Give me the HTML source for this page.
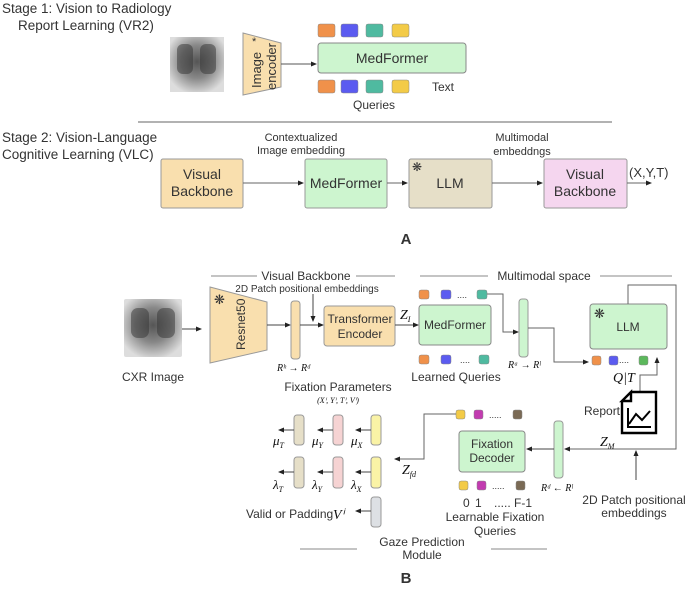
<!DOCTYPE html>
<html><head><style>body{margin:0;background:#fff}svg{display:block}text{font-family:"Liberation Sans",sans-serif;fill:#333}.m{font-family:"Liberation Serif",serif;font-style:italic;fill:#111}</style></head><body>
<svg width="685" height="590" viewBox="0 0 685 590" xmlns="http://www.w3.org/2000/svg">
<defs>
<marker id="a" markerWidth="6" markerHeight="6" refX="5" refY="3" orient="auto"><path d="M0,0.5 L6,3 L0,5.5z" fill="#222"/></marker>
<radialGradient id="x" cx="50%" cy="45%" r="60%"><stop offset="0" stop-color="#555"/><stop offset="0.5" stop-color="#888"/><stop offset="1" stop-color="#ddd"/></radialGradient>
</defs>
<line x1="138" y1="122" x2="612" y2="122" stroke="#666"/>
<text x="2" y="13" font-size="13.5">Stage 1: Vision to Radiology</text>
<text x="18" y="30" font-size="13.5">Report Learning (VR2)</text>
<rect x="170" y="37" width="54" height="55" fill="url(#x)"/>
<rect x="177" y="44" width="16" height="30" rx="6" fill="#333" opacity=".5"/><rect x="200" y="44" width="16" height="30" rx="6" fill="#333" opacity=".5"/>
<path d="M243,33 L281,43 L281,87 L243,95z" fill="#f9dfae" stroke="#999"/>
<text transform="translate(261,88) rotate(-90)" font-size="13" fill="#222">Image</text>
<text transform="translate(276,90) rotate(-90)" font-size="13" fill="#222">encoder</text>
<text x="252" y="45" font-size="11">*</text>
<line x1="281" y1="64" x2="316" y2="64" stroke="#555" marker-end="url(#a)"/>
<rect x="318" y="43" width="148" height="30" rx="3" fill="#cdf5cf" stroke="#888"/>
<text x="392" y="63" font-size="14" text-anchor="middle">MedFormer</text>
<g stroke="#888" stroke-width=".5">
<rect x="318" y="24" width="17" height="13" rx="2" fill="#f0914a"/><rect x="341" y="24" width="17" height="13" rx="2" fill="#5b5bf0"/><rect x="366" y="24" width="17" height="13" rx="2" fill="#4fbaa0"/><rect x="392" y="24" width="17" height="13" rx="2" fill="#f3cb47"/>
<rect x="318" y="80" width="17" height="13" rx="2" fill="#f0914a"/><rect x="341" y="80" width="17" height="13" rx="2" fill="#5b5bf0"/><rect x="366" y="80" width="17" height="13" rx="2" fill="#4fbaa0"/><rect x="392" y="80" width="17" height="13" rx="2" fill="#f3cb47"/>
</g>
<text x="432" y="91" font-size="12">Text</text>
<text x="374" y="109" font-size="12" text-anchor="middle">Queries</text>
<text x="2" y="142" font-size="13.5">Stage 2: Vision-Language</text>
<text x="2" y="159" font-size="13.5">Cognitive Learning (VLC)</text>
<text x="301" y="141" font-size="11" text-anchor="middle">Contextualized</text>
<text x="301" y="154" font-size="11" text-anchor="middle">Image embedding</text>
<text x="522" y="141" font-size="11" text-anchor="middle">Multimodal</text>
<text x="522" y="155" font-size="11" text-anchor="middle">embeddngs</text>
<rect x="161" y="159" width="82" height="49" rx="2" fill="#f9dfae" stroke="#999"/>
<text x="202" y="179" font-size="14" text-anchor="middle">Visual</text><text x="202" y="196" font-size="14" text-anchor="middle">Backbone</text>
<rect x="305" y="159" width="82" height="49" rx="2" fill="#cdf5cf" stroke="#999"/>
<text x="346" y="188" font-size="14" text-anchor="middle">MedFormer</text>
<rect x="409" y="159" width="83" height="49" rx="2" fill="#e6dfc8" stroke="#999"/>
<text x="450" y="188" font-size="14" text-anchor="middle">LLM</text><text x="412" y="171" font-size="12" fill="#111">❋</text>
<rect x="544" y="159" width="83" height="49" rx="2" fill="#f5d6ef" stroke="#999"/>
<text x="585" y="179" font-size="14" text-anchor="middle">Visual</text><text x="585" y="196" font-size="14" text-anchor="middle">Backbone</text>
<g stroke="#666" marker-end="url(#a)"><line x1="243" y1="183" x2="303" y2="183"/><line x1="387" y1="183" x2="407" y2="183"/><line x1="492" y1="183" x2="542" y2="183"/><line x1="627" y1="183" x2="651" y2="183"/></g>
<text x="629" y="177" font-size="13">(X,Y,T)</text>
<text x="406" y="244" font-size="15" font-weight="bold" text-anchor="middle">A</text>

<g stroke="#888" fill="none"><line x1="211" y1="276" x2="257" y2="276"/><line x1="356" y1="276" x2="395" y2="276"/><line x1="420" y1="276" x2="488" y2="276"/><line x1="600" y1="276" x2="672" y2="276"/><line x1="300" y1="549" x2="357" y2="549"/><line x1="491" y1="549" x2="547" y2="549"/></g>
<text x="306" y="280" font-size="12" text-anchor="middle">Visual Backbone</text>
<text x="544" y="280" font-size="12" text-anchor="middle">Multimodal space</text>
<text x="307" y="292" font-size="10" text-anchor="middle" fill="#111">2D Patch positional embeddings</text>
<rect x="124" y="299" width="58" height="58" rx="2" fill="url(#x)"/>
<rect x="131" y="308" width="18" height="30" rx="7" fill="#333" opacity=".5"/><rect x="157" y="308" width="18" height="30" rx="7" fill="#333" opacity=".5"/>
<text x="153" y="381" font-size="12" text-anchor="middle">CXR Image</text>
<line x1="182" y1="329" x2="201" y2="329" stroke="#444" marker-end="url(#a)"/>
<path d="M210,287 L267,302 L267,350 L210,363z" fill="#f9dfae" stroke="#999"/>
<text x="214" y="304" font-size="13" fill="#111">❋</text>
<text transform="translate(245,350) rotate(-90)" font-size="12">Resnet50</text>
<line x1="267" y1="325" x2="290" y2="325" stroke="#444" marker-end="url(#a)"/>
<rect x="291" y="301" width="9" height="58" rx="3" fill="#f9dfae" stroke="#999"/>
<text x="277" y="371" class="m" font-size="10">Rʰ → Rᵈ</text>
<line x1="313" y1="294" x2="313" y2="321" stroke="#444" marker-end="url(#a)"/>
<line x1="300" y1="325" x2="323" y2="325" stroke="#444" marker-end="url(#a)"/>
<rect x="324" y="306" width="71" height="40" rx="3" fill="#f9dfae" stroke="#999"/>
<text x="360" y="323" font-size="12" text-anchor="middle">Transformer</text><text x="360" y="338" font-size="12" text-anchor="middle">Encoder</text>
<text x="400" y="319" class="m" font-size="14">Z<tspan font-size="8" dy="3">I</tspan></text>
<line x1="395" y1="325" x2="418" y2="325" stroke="#444" marker-end="url(#a)"/>
<rect x="419" y="305" width="72" height="40" rx="3" fill="#cdf5cf" stroke="#888"/>
<text x="455" y="329" font-size="12" text-anchor="middle">MedFormer</text>
<g stroke="#888" stroke-width=".5">
<rect x="419" y="290" width="10" height="9" rx="2" fill="#f0914a"/><rect x="441" y="290" width="10" height="9" rx="2" fill="#5b5bf0"/><rect x="477" y="290" width="10" height="9" rx="2" fill="#4fbaa0"/>
<rect x="419" y="355" width="10" height="9" rx="2" fill="#f0914a"/><rect x="441" y="355" width="10" height="9" rx="2" fill="#5b5bf0"/><rect x="479" y="355" width="10" height="9" rx="2" fill="#4fbaa0"/>
<rect x="592" y="356" width="9" height="9" rx="2" fill="#f0914a"/><rect x="609" y="356" width="9" height="9" rx="2" fill="#5b5bf0"/><rect x="639" y="356" width="9" height="9" rx="2" fill="#5cb85c"/>
<rect x="456" y="410" width="9" height="9" rx="2" fill="#f3cb47"/><rect x="474" y="410" width="9" height="9" rx="2" fill="#c23bb0"/><rect x="513" y="410" width="9" height="9" rx="2" fill="#7a6a55"/>
<rect x="459" y="481" width="9" height="9" rx="2" fill="#f3cb47"/><rect x="477" y="481" width="9" height="9" rx="2" fill="#c23bb0"/><rect x="516" y="481" width="9" height="9" rx="2" fill="#7a6a55"/>
</g>
<text x="457" y="298" font-size="9">....</text><text x="460" y="363" font-size="9">....</text><text x="619" y="363" font-size="9">....</text><text x="489" y="418" font-size="9">.....</text><text x="492" y="489" font-size="9">.....</text>
<text x="456" y="381" font-size="12" text-anchor="middle">Learned Queries</text>
<path d="M487,294 L503,294 L503,332 L518,332" fill="none" stroke="#666" marker-end="url(#a)"/>
<rect x="519" y="299" width="9" height="58" rx="3" fill="#cdf5cf" stroke="#999"/>
<text x="508" y="368" class="m" font-size="10">Rᵃ → Rˡ</text>
<path d="M528,328 L554,328 L554,362 L588,362" fill="none" stroke="#666" marker-end="url(#a)"/>
<rect x="590" y="304" width="77" height="45" rx="3" fill="#cdf5cf" stroke="#888"/>
<text x="628" y="331" font-size="12" text-anchor="middle">LLM</text><text x="594" y="318" font-size="13" fill="#111">❋</text>
<path d="M628,304 L628,285 L676,285 L676,449 L565,449" fill="none" stroke="#666" marker-end="url(#a)"/>
<text x="613" y="382" class="m" font-size="14">Q|T</text>
<path d="M640,392 L640,375 L657,375 L657,358" fill="none" stroke="#666" marker-end="url(#a)"/>
<path d="M622,401 L631,392 L656,392 L656,433 L622,433z M622,401 L631,392 L631,401z" fill="#fff" stroke="#000" stroke-width="2.4"/>
<path d="M628,408 L628,427 L651,427 M629,424 L636,414 L642,420 L650,411" fill="none" stroke="#000" stroke-width="2"/>
<text x="584" y="415" font-size="12">Report</text>
<text x="600" y="446" class="m" font-size="14">Z<tspan font-size="8" dy="3">M</tspan></text>
<line x1="636" y1="480" x2="636" y2="451" stroke="#444" marker-end="url(#a)"/>
<text x="634" y="504" font-size="12" text-anchor="middle">2D Patch positional</text>
<text x="634" y="517" font-size="12" text-anchor="middle">embeddings</text>
<rect x="554" y="421" width="9" height="57" rx="3" fill="#cdf5cf" stroke="#999"/>
<line x1="554" y1="449" x2="527" y2="449" stroke="#444" marker-end="url(#a)"/>
<text x="541" y="491" class="m" font-size="10">Rᵈ ← Rˡ</text>
<rect x="459" y="431" width="66" height="41" rx="3" fill="#cdf5cf" stroke="#888"/>
<text x="492" y="448" font-size="12" text-anchor="middle">Fixation</text><text x="492" y="462" font-size="12" text-anchor="middle">Decoder</text>
<text x="463" y="507" font-size="12">0</text><text x="475" y="507" font-size="12">1</text><text x="494" y="507" font-size="12">..... F-1</text>
<text x="495" y="521" font-size="12" text-anchor="middle">Learnable Fixation</text><text x="495" y="535" font-size="12" text-anchor="middle">Queries</text>
<path d="M456,414 L424,414 L424,459 L395,459" fill="none" stroke="#666" marker-end="url(#a)"/>
<text x="402" y="474" class="m" font-size="14">Z<tspan font-size="8" dy="3">fd</tspan></text>
<text x="338" y="391" font-size="12" text-anchor="middle">Fixation Parameters</text>
<text x="338" y="403" class="m" font-size="8" text-anchor="middle">(Xⁱ, Yⁱ, Tⁱ, Vⁱ)</text>
<g stroke="#999">
<rect x="294" y="415" width="10" height="30" rx="3" fill="#e6dfc8"/><rect x="333" y="415" width="10" height="30" rx="3" fill="#f6d3d3"/><rect x="371" y="415" width="10" height="30" rx="3" fill="#faf3a6"/>
<rect x="294" y="457" width="10" height="31" rx="3" fill="#e6dfc8"/><rect x="333" y="457" width="10" height="31" rx="3" fill="#f6d3d3"/><rect x="371" y="457" width="10" height="31" rx="3" fill="#faf3a6"/>
<rect x="371" y="497" width="10" height="30" rx="3" fill="#dde0e4"/>
</g>
<g stroke="#444" marker-end="url(#a)">
<line x1="294" y1="430" x2="279" y2="430"/><line x1="333" y1="430" x2="318" y2="430"/><line x1="371" y1="430" x2="356" y2="430"/>
<line x1="294" y1="472" x2="279" y2="472"/><line x1="333" y1="472" x2="318" y2="472"/><line x1="371" y1="472" x2="356" y2="472"/>
<line x1="371" y1="511" x2="356" y2="511"/>
</g>
<g font-size="13"><text x="273" y="445" class="m">μ<tspan font-size="8" dy="3">T</tspan></text><text x="312" y="445" class="m">μ<tspan font-size="8" dy="3">Y</tspan></text><text x="351" y="445" class="m">μ<tspan font-size="8" dy="3">X</tspan></text>
<text x="273" y="489" class="m">λ<tspan font-size="8" dy="3">T</tspan></text><text x="312" y="489" class="m">λ<tspan font-size="8" dy="3">Y</tspan></text><text x="351" y="489" class="m">λ<tspan font-size="8" dy="3">X</tspan></text></g>
<text x="246" y="518" font-size="12">Valid or Padding</text>
<text x="333" y="519" class="m" font-size="14">Vⁱ</text>
<text x="422" y="546" font-size="12" text-anchor="middle">Gaze Prediction</text><text x="422" y="559" font-size="12" text-anchor="middle">Module</text>
<text x="406" y="583" font-size="15" font-weight="bold" text-anchor="middle">B</text>
</svg>
</body></html>
